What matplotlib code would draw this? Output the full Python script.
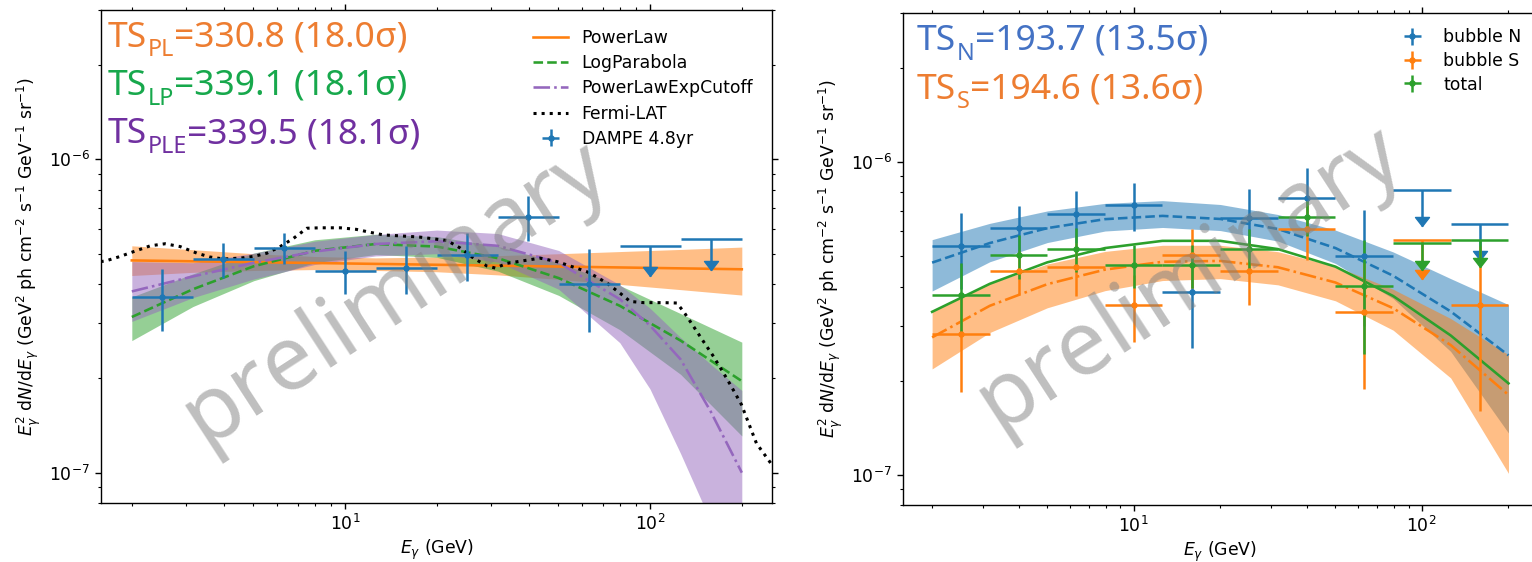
import matplotlib
matplotlib.use("Agg")
import matplotlib.pyplot as plt
import numpy as np
from matplotlib.path import Path

# ---------------------------------------------------------------- data
UNIT = 1e-7  # all fluxes below are in units of 1e-7 GeV^2 ph cm^-2 s^-1 GeV^-1 sr^-1

# energy bins (GeV)
bin_center = [2.52, 3.99, 6.32, 10.0, 15.9, 25.2, 39.9, 63.2, 100.0, 159.0]
bin_low = [2.0, 3.17, 5.02, 7.96, 12.6, 20.0, 31.7, 50.2, 79.6, 126.0]
bin_high = [3.17, 5.02, 7.96, 12.6, 20.0, 31.7, 50.2, 79.6, 126.0, 200.0]

# grids on which the fitted models are tabulated (GeV)
model_e = [2.0, 3.17, 5.02, 7.96, 12.6, 20.0, 31.7, 50.2, 79.6, 126.0, 200.0]
ple_e = [2.0, 3.17, 5.02, 7.96, 12.6, 20.0, 31.7, 50.2, 79.6, 100.0, 126.0, 158.0, 200.0]

# ---- left panel: whole bubbles
dampe_flux = [3.65, 4.80, 5.23, 4.41, 4.50, 4.95, 6.56, 4.00, 5.31, 5.56]
dampe_err = [0.82, 0.61, 0.58, 0.70, 0.79, 0.87, 1.08, 1.19, 0.0, 0.0]
dampe_ul = [False, False, False, False, False, False, False, False, True, True]

pl_flux = [4.76, 4.73, 4.70, 4.67, 4.64, 4.61, 4.58, 4.55, 4.52, 4.49, 4.46]
pl_low = [4.26, 4.36, 4.42, 4.45, 4.42, 4.38, 4.28, 4.14, 3.99, 3.84, 3.69]
pl_high = [5.30, 5.15, 5.00, 4.90, 4.85, 4.88, 4.93, 5.00, 5.08, 5.16, 5.25]

lp_flux = [3.14, 3.85, 4.56, 5.11, 5.37, 5.27, 4.84, 4.18, 3.41, 2.64, 1.96]
lp_low = [2.64, 3.39, 4.10, 4.68, 4.97, 4.87, 4.40, 3.68, 2.86, 2.06, 1.31]
lp_high = [3.64, 4.31, 5.02, 5.54, 5.77, 5.67, 5.28, 4.68, 3.96, 3.22, 2.61]

ple_flux = [3.79, 4.23, 4.68, 5.08, 5.37, 5.48, 5.30, 4.68, 3.58, 2.95, 2.30, 1.57, 1.00]
ple_low = [3.04, 3.62, 4.15, 4.62, 4.92, 5.00, 4.70, 3.85, 2.60, 1.85, 1.15, 0.70, 0.40]
ple_high = [4.72, 4.68, 5.02, 5.48, 5.76, 5.95, 5.80, 5.12, 3.98, 3.35, 2.70, 2.22, 1.83]

fermi_e = [1.58, 1.64, 1.83, 2.03, 2.30, 2.57, 2.88, 3.27, 3.61, 4.00, 4.53, 5.01,
           5.55, 6.13, 6.78, 7.50, 8.29, 9.64, 10.9, 12.1, 13.4, 15.2, 17.6, 20.0,
           21.6, 23.9, 26.4, 29.2, 31.1, 34.0, 38.5, 43.6, 49.5, 54.7, 62.1, 67.0,
           72.2, 79.8, 86.1, 95.2, 110.7, 122.4, 128.8, 138.9, 149.8, 161.5, 174.2,
           185.6, 199.4, 223.4, 252.7]
fermi_flux = [4.72, 4.74, 4.90, 5.08, 5.30, 5.38, 5.27, 5.02, 4.88, 4.81, 4.84, 4.90,
              5.02, 5.27, 5.60, 6.03, 6.05, 6.05, 5.98, 5.85, 5.74, 5.70, 5.65, 5.56,
              5.51, 5.21, 4.84, 4.57, 4.50, 4.66, 4.75, 4.84, 4.72, 4.57, 4.38, 4.21,
              4.03, 3.74, 3.52, 3.49, 3.49, 3.48, 3.27, 2.93, 2.62, 2.35, 2.08,
              1.87, 1.65, 1.24, 1.05]

# ---- right panel: north / south bubble and total
north_flux = [5.40, 6.14, 6.80, 7.29, 3.84, 6.61, 7.70, 5.01, 8.13, 6.32]
north_err = [1.46, 1.11, 1.28, 1.28, 1.29, 1.59, 1.86, 2.02, 0.0, 0.0]
north_ul = [False, False, False, False, False, False, False, False, True, True]

south_flux = [2.82, 4.49, 4.62, 3.50, 5.04, 4.49, 6.10, 3.31, 5.65, 3.50]
south_err = [0.98, 0.70, 0.88, 0.84, 1.09, 1.01, 1.25, 1.43, 0.0, 1.90]
south_ul = [False, False, False, False, False, False, False, False, True, False]

total_flux = [3.77, 5.04, 5.29, 4.70, 4.70, 5.26, 6.69, 4.03, 5.50, 5.62]
total_err = [1.00, 0.80, 0.85, 0.75, 0.75, 0.85, 0.90, 1.60, 0.0, 0.0]
total_ul = [False, False, False, False, False, False, False, False, True, True]

north_model = [4.77, 5.51, 6.15, 6.57, 6.73, 6.58, 6.11, 5.31, 4.33, 3.33, 2.41]
north_low = [3.87, 4.80, 5.53, 6.02, 6.18, 6.04, 5.59, 4.74, 3.66, 2.48, 1.36]
north_high = [5.65, 6.37, 6.98, 7.38, 7.53, 7.32, 6.80, 6.06, 5.16, 4.24, 3.50]

south_model = [2.75, 3.47, 4.07, 4.53, 4.80, 4.83, 4.61, 4.12, 3.41, 2.60, 1.80]
south_low = [2.18, 2.85, 3.42, 3.88, 4.18, 4.24, 4.05, 3.60, 2.90, 2.04, 1.01]
south_high = [3.32, 4.09, 4.72, 5.18, 5.42, 5.42, 5.17, 4.64, 3.92, 3.16, 2.42]

total_model = [3.32, 4.08, 4.78, 5.31, 5.60, 5.60, 5.27, 4.63, 3.73, 2.79, 1.96]

# significance labels
ts_left = [("PL", "=330.8 (18.0\u03c3)", "#ED7D31"),
           ("LP", "=339.1 (18.1\u03c3)", "#17A84C"),
           ("PLE", "=339.5 (18.1\u03c3)", "#7030A0")]
ts_right = [("N", "=193.7 (13.5\u03c3)", "#4472C4"),
            ("S", "=194.6 (13.6\u03c3)", "#ED7D31")]

# upper-limit arrow tip, as a fraction of the limit value
ul_tip = {"dampe": 0.80, "north": 0.77, "south": 0.75, "total": 0.82}

# ---------------------------------------------------------------- style
plt.rcParams.update({
    "font.family": ["DejaVu Sans"],
    "font.size": 12.4,
    "axes.linewidth": 1.0,
    "axes.labelpad": 2.5,
    "lines.linewidth": 1.86,
    "xtick.major.size": 4.3, "xtick.minor.size": 2.5,
    "ytick.major.size": 4.3, "ytick.minor.size": 2.5,
    "xtick.major.width": 1.0, "xtick.minor.width": 0.8,
    "ytick.major.width": 1.0, "ytick.minor.width": 0.8,
    "legend.frameon": False,
})

C0, C1, C2, C4 = "#1f77b4", "#ff7f0e", "#2ca02c", "#9467bd"
TS_FONT = "Noto Sans"
TS_SIZE = 25.5
XLIM = (10 ** 0.2, 10 ** 2.4)
YLIM = (8e-8, 3e-6)

# arrow head with its tip at the data point
ARROW = Path([(0, 0), (-0.62, 0.8), (0.62, 0.8), (0, 0)],
             [Path.MOVETO, Path.LINETO, Path.LINETO, Path.CLOSEPOLY])


def scaled(values):
    return np.asarray(values, dtype=float) * UNIT


def spectral_points(ax, flux, err, is_ul, tip, color, label):
    e = np.asarray(bin_center)
    lo = np.asarray(bin_low)
    hi = np.asarray(bin_high)
    f = scaled(flux)
    df = scaled(err)
    ul = np.asarray(is_ul)
    det = ~ul
    cont = ax.errorbar(e[det], f[det], xerr=[e[det] - lo[det], hi[det] - e[det]],
                       yerr=df[det], fmt="o", ms=3.6, color=color, ecolor=color,
                       elinewidth=1.8, capsize=0, label=label, zorder=5)
    if ul.any():
        ax.errorbar(e[ul], f[ul], xerr=[e[ul] - lo[ul], hi[ul] - e[ul]],
                    yerr=[f[ul] * (1 - tip), np.zeros(ul.sum())], fmt="none",
                    ecolor=color, elinewidth=1.8, capsize=0, zorder=5)
        ax.plot(e[ul], f[ul] * tip, ls="none", marker=ARROW, ms=13,
                color=color, mec=color, zorder=5)
    return cont


def ts_label(ax, x, y, sub, rest, color):
    base = ax.text(x, y, "TS", transform=ax.transAxes, fontsize=TS_SIZE,
                   color=color, family=TS_FONT, ha="left", va="baseline", zorder=12)
    low = ax.annotate(sub, xy=(1, 0), xycoords=base, xytext=(0.3, -5.6),
                      textcoords="offset points", fontsize=TS_SIZE * 0.66,
                      color=color, family=TS_FONT, ha="left", va="bottom", zorder=12)
    ax.annotate(rest, xy=(1, 0), xycoords=(low, base), xytext=(0.3, 0),
                textcoords="offset points", fontsize=TS_SIZE, color=color,
                family=TS_FONT, ha="left", va="bottom", zorder=12)


def watermark(ax, x, y):
    ax.text(x, y, "preliminary", transform=ax.transAxes, rotation=33,
            fontsize=65, family=TS_FONT, color="#808080", alpha=0.5,
            ha="center", va="center", zorder=11)


def dress(ax):
    ax.set_xscale("log")
    ax.set_yscale("log")
    ax.set_xlim(*XLIM)
    ax.set_ylim(*YLIM)
    ax.tick_params(which="both", top=True, right=True)
    ax.set_xlabel(r"$E_\gamma$ (GeV)")
    ax.set_ylabel(r"$E_\gamma^2$ d$N$/d$E_\gamma$ (GeV$^2$ ph cm$^{-2}$ s$^{-1}$ "
                  r"GeV$^{-1}$ sr$^{-1}$)", labelpad=4)


fig = plt.figure(figsize=(15.32, 5.62), dpi=100)
ax1 = fig.add_axes([101 / 1532, 1 - 503 / 562, 671 / 1532, 493 / 562])
ax2 = fig.add_axes([903 / 1532, 1 - 505 / 562, 634 / 1532, 492 / 562])

# ---------------------------------------------------------------- left panel
me = np.asarray(model_e)
pe = np.asarray(ple_e)
ax1.fill_between(me, scaled(pl_low), scaled(pl_high), color=C1, alpha=0.5, lw=0)
ax1.fill_between(me, scaled(lp_low), scaled(lp_high), color=C2, alpha=0.5, lw=0)
ax1.fill_between(pe, scaled(ple_low), scaled(ple_high), color=C4, alpha=0.5, lw=0)
h_pl, = ax1.plot(me, scaled(pl_flux), "-", color=C1, label="PowerLaw")
h_lp, = ax1.plot(me, scaled(lp_flux), "--", color=C2, label="LogParabola")
h_ple, = ax1.plot(pe, scaled(ple_flux), "-.", color=C4, label="PowerLawExpCutoff")
h_fermi, = ax1.plot(fermi_e, scaled(fermi_flux), ":", color="black", lw=2.2,
                    label="Fermi-LAT")
h_dampe = spectral_points(ax1, dampe_flux, dampe_err, dampe_ul, ul_tip["dampe"],
                          C0, "DAMPE 4.8yr")
dress(ax1)
ax1.legend(handles=[h_pl, h_lp, h_ple, h_fermi, h_dampe], loc="upper right",
           borderaxespad=0.7, labelspacing=0.42)

row = [0.9258, 0.8276, 0.7294]
for (sub, rest, col), yy in zip(ts_left, row):
    ts_label(ax1, 0.0104, yy, sub, rest, col)
watermark(ax1, 0.438, 0.425)

# ---------------------------------------------------------------- right panel
ax2.fill_between(me, scaled(north_low), scaled(north_high), color=C0, alpha=0.5, lw=0)
ax2.fill_between(me, scaled(south_low), scaled(south_high), color=C1, alpha=0.5, lw=0)
ax2.plot(me, scaled(north_model), "--", color=C0)
ax2.plot(me, scaled(south_model), "-.", color=C1)
ax2.plot(me, scaled(total_model), "-", color=C2)
h_n = spectral_points(ax2, north_flux, north_err, north_ul, ul_tip["north"], C0, "bubble N")
h_s = spectral_points(ax2, south_flux, south_err, south_ul, ul_tip["south"], C1, "bubble S")
h_t = spectral_points(ax2, total_flux, total_err, total_ul, ul_tip["total"], C2, "total")
dress(ax2)
ax2.legend(handles=[h_n, h_s, h_t], loc="upper right", labelspacing=0.32)

for (sub, rest, col), yy in zip(ts_right, [0.9248, 0.8260]):
    ts_label(ax2, 0.022, yy, sub, rest, col)
watermark(ax2, 0.452, 0.46)

fig.savefig("out.png", dpi=100)
